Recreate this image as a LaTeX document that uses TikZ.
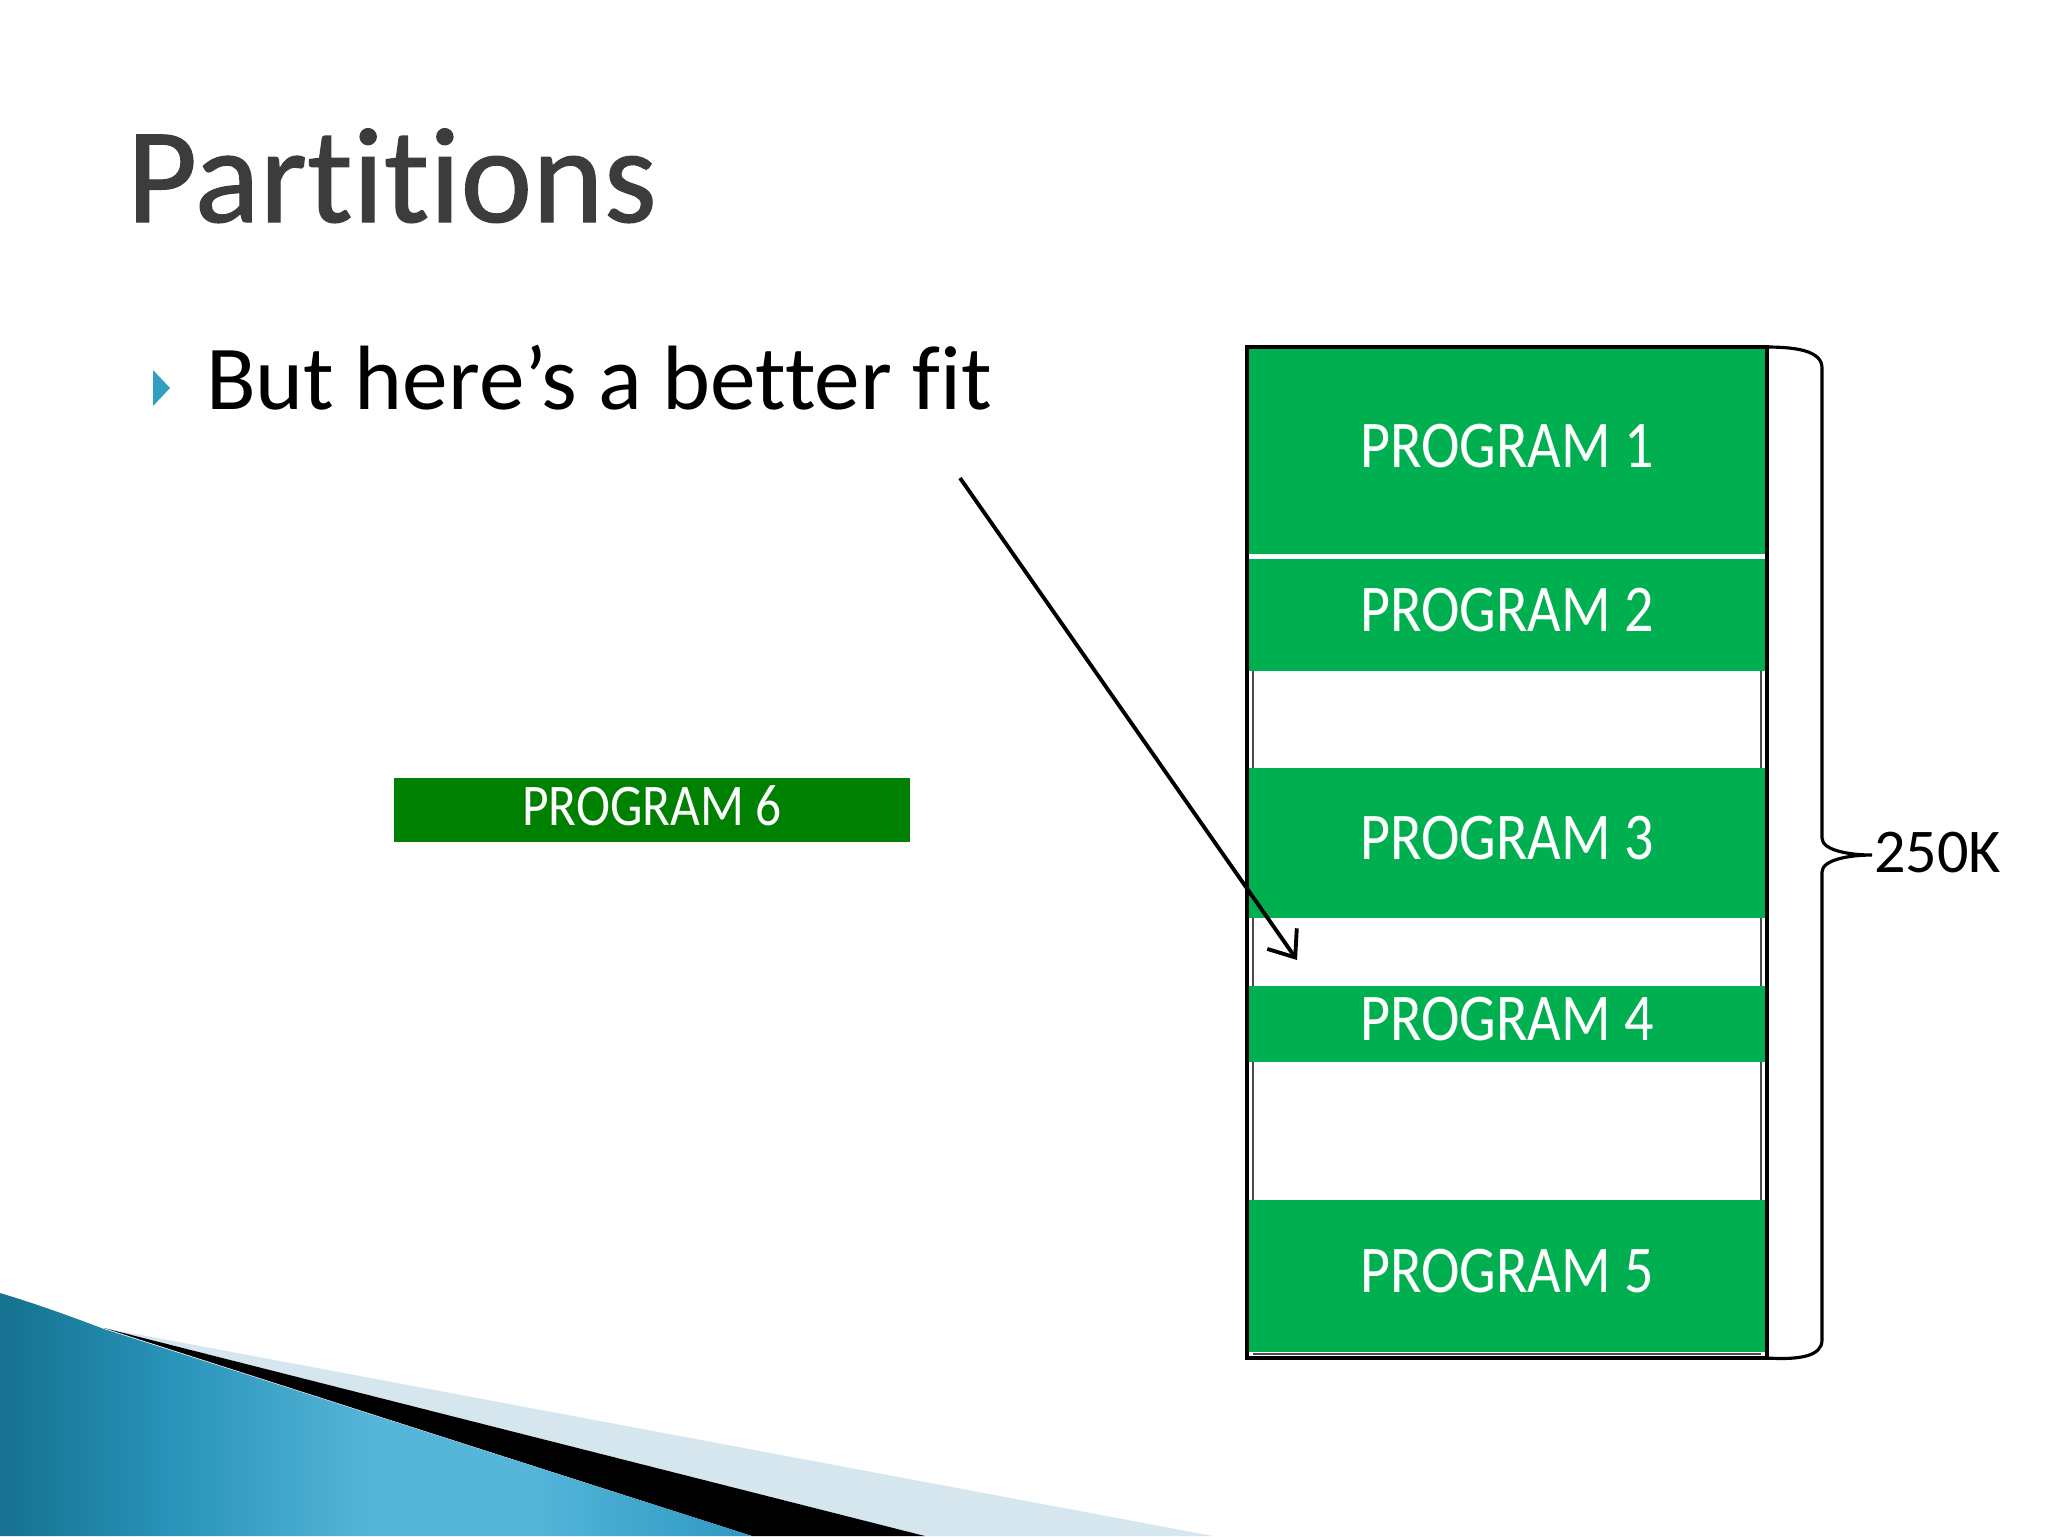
\documentclass[tikz,border=0pt]{standalone}
\usepackage{fontspec}
\setmainfont{Carlito}[RawFeature={-liga;-dlig;-clig}]
\newfontfamily\titlefont{Carlito}[RawFeature={-liga;-dlig;-clig}, FakeBold=0.8]
\newfontfamily\narrowfont{Carlito}[FakeStretch=0.87, RawFeature={-liga;-dlig;-clig}]
\usetikzlibrary{arrows.meta}
\definecolor{pgreen}{HTML}{00B050}
\definecolor{dgreen}{HTML}{008000}
\definecolor{titlegray}{HTML}{3C3C3C}
\definecolor{bulletc}{HTML}{2E9FBF}
\definecolor{swooshlight}{HTML}{D6E6EF}
\definecolor{swA}{HTML}{15718F}
\definecolor{swB}{HTML}{2892B8}
\definecolor{swC}{HTML}{55B6D9}
\definecolor{swD}{HTML}{2E98C2}
\pgfdeclarehorizontalshading{swoosh}{100bp}{color(0bp)=(swA); color(25bp)=(swA); color(36bp)=(swB); color(50bp)=(swC); color(60bp)=(swC); color(75bp)=(swD); color(100bp)=(swD)}
\begin{document}
\begin{tikzpicture}[x=0.1mm,y=-0.1mm,
  seg/.style={fill=pgreen, draw=none, minimum width=52mm, inner sep=0pt,
    text=white, text depth=1mm, font=\narrowfont\fontsize{19}{21}\selectfont},
  gapline/.style={draw=black!70, line width=0.4pt},
  plain/.style={inner sep=0pt, outer sep=0pt}]
% page
\fill[white] (0,0) rectangle (2048,1536);
\useasboundingbox (0,0) rectangle (2048,1536);

% bottom-left swoosh
\fill[swooshlight] (104,1328) -- (1213,1536) -- (925,1536) -- cycle;
\fill[black] (104,1328) -- (925,1536) -- (752,1536) -- cycle;
\shade[shading=swoosh]
  (0,1293) .. controls (40,1305) and (75,1318) .. (104,1329) -- (752,1536) -- (0,1536) -- cycle;

% title and bullet
\node[plain, anchor=base west, text=titlegray, font=\titlefont\fontsize{38.7}{42}\selectfont] (title) at (127,222) {Partitions};
\fill[bulletc] (153,370) -- (153,406) -- (170,388) -- cycle;
\node[plain, anchor=base west, font=\fontsize{26}{30}\selectfont] (bullet) at (206,409) {But here’s a better fit};

% program 6
\node[plain, fill=dgreen, minimum width=51.6mm, minimum height=6.4mm, text=white,
  text depth=0.8mm, font=\narrowfont\fontsize{16.8}{19}\selectfont] (p6) at (652,810) {PROGRAM 6};

% memory column
\node[seg, minimum height=20.7mm] (p1) at (1507,450.5) {PROGRAM 1};
\node[seg, minimum height=11.2mm] (p2) at (1507,615) {PROGRAM 2};
\node[seg, minimum height=15.0mm] (p3) at (1507,843) {PROGRAM 3};
\node[seg, minimum height=7.6mm] (p4) at (1507,1024) {PROGRAM 4};
\node[seg, minimum height=15.2mm] (p5) at (1507,1276) {PROGRAM 5};
% thin inner edges of the free gaps
\draw[gapline] (1253,671) -- (1253,768) (1761,671) -- (1761,768);
\draw[gapline] (1253,918) -- (1253,986) (1761,918) -- (1761,986);
\draw[gapline] (1253,1062) -- (1253,1200) (1761,1062) -- (1761,1200);
\draw[gapline] (1253,1354) -- (1761,1354);
\node[plain, draw, line width=1pt, minimum width=52mm, minimum height=101.1mm] (mem) at (1507,852.5) {};

% brace
\coordinate (btip) at (1872,855);
\draw[line width=0.9pt] (mem.north east) .. controls (1800,347) and (1822,352) .. (1822,368)
  -- (1822,838) .. controls (1822,850) and (1848,855) .. (btip)
  .. controls (1848,855) and (1822,860) .. (1822,872)
  -- (1822,1340) .. controls (1822,1356) and (1800,1360) .. (mem.south east);
\node[plain, anchor=west, font=\fontsize{17.7}{20}\selectfont] (k250) at (1874,853) {250K};

% arrow
\coordinate (arrS) at (960,478);
\coordinate (arrE) at (1297,960);
\draw[line width=1.1pt, -{Straight Barb[length=2.3mm,width=3.6mm]}] (arrS) -- (arrE);
\end{tikzpicture}
\end{document}
